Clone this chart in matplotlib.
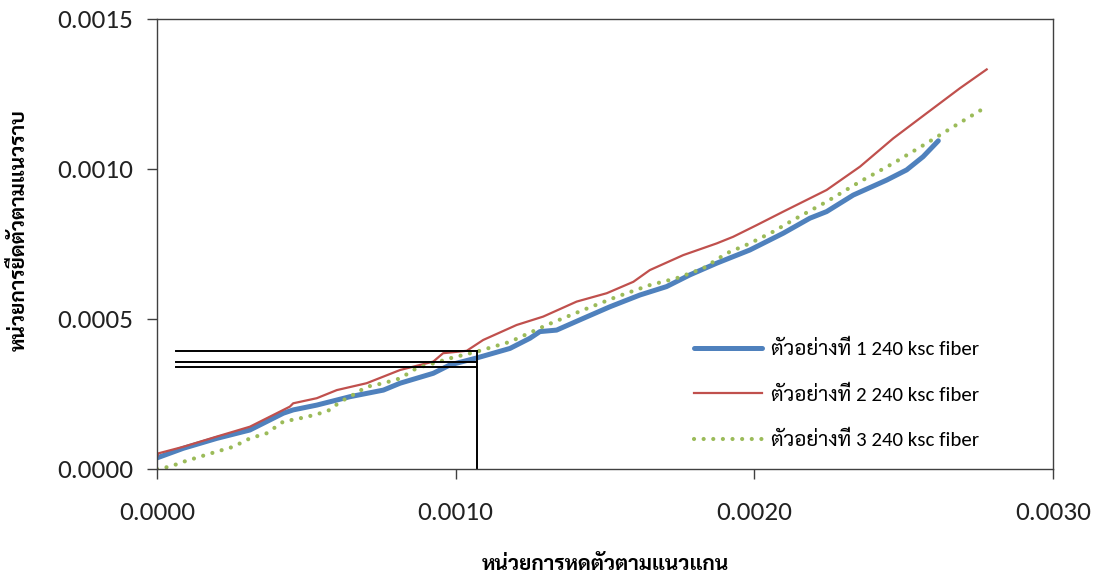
import matplotlib
matplotlib.use("Agg")
import matplotlib.pyplot as plt
from matplotlib.ticker import FormatStrFormatter

# strain readings (axial, lateral)
x1 = [0, 0.000088, 0.000200, 0.000311, 0.000423, 0.000456, 0.000535, 0.000646, 0.000758,
      0.000814, 0.000925, 0.000981, 0.001070, 0.001182, 0.001249, 0.001282, 0.001338,
      0.001427, 0.001517, 0.001617, 0.001706, 0.001784, 0.001874, 0.001985, 0.002097,
      0.002186, 0.002242, 0.002331, 0.002443, 0.002510, 0.002565, 0.002616]
y1 = [0.000037, 0.000069, 0.000102, 0.000130, 0.000186, 0.000197, 0.000213, 0.000241, 0.000263,
      0.000286, 0.000319, 0.000347, 0.000370, 0.000402, 0.000436, 0.000458, 0.000463,
      0.000502, 0.000541, 0.000580, 0.000608, 0.000647, 0.000686, 0.000730, 0.000786,
      0.000836, 0.000858, 0.000913, 0.000963, 0.000997, 0.001041, 0.001094]

x2 = [0, 0.000004, 0.000088, 0.000200, 0.000311, 0.000367, 0.000445, 0.000456, 0.000535,
      0.000602, 0.000702, 0.000758, 0.000814, 0.000925, 0.000958, 0.001037, 0.001092,
      0.001204, 0.001293, 0.001405, 0.001506, 0.001595, 0.001650, 0.001762, 0.001874,
      0.001929, 0.002008, 0.002097, 0.002242, 0.002354, 0.002465, 0.002577, 0.002688, 0.002778]
y2 = [0.000040, 0.000052, 0.000074, 0.000108, 0.000141, 0.000169, 0.000208, 0.000219, 0.000236,
      0.000263, 0.000286, 0.000308, 0.000330, 0.000358, 0.000386, 0.000394, 0.000430,
      0.000480, 0.000508, 0.000558, 0.000586, 0.000624, 0.000663, 0.000713, 0.000752,
      0.000774, 0.000813, 0.000858, 0.000930, 0.001008, 0.001102, 0.001186, 0.001269, 0.001332]

x3 = [0, 0.000044, 0.000088, 0.000144, 0.000200, 0.000255, 0.000311, 0.000367, 0.000423,
      0.000479, 0.000535, 0.000579, 0.000613, 0.000646, 0.000702, 0.000758, 0.000814,
      0.000869, 0.000925, 0.000981, 0.001070, 0.001182, 0.001305, 0.001427, 0.001539,
      0.001650, 0.001740, 0.001829, 0.001907, 0.001985, 0.002063, 0.002130, 0.002242,
      0.002354, 0.002465, 0.002577, 0.002688, 0.002778]
y3 = [0, 0.000008, 0.000024, 0.000041, 0.000058, 0.000074, 0.000102, 0.000119, 0.000158,
      0.000169, 0.000182, 0.000197, 0.000224, 0.000241, 0.000274, 0.000286, 0.000302,
      0.000336, 0.000352, 0.000369, 0.000391, 0.000424, 0.000480, 0.000530, 0.000574,
      0.000613, 0.000636, 0.000669, 0.000719, 0.000752, 0.000791, 0.000830, 0.000891,
      0.000958, 0.001019, 0.001086, 0.001154, 0.001208]

labels = ["ตัวอย่างที่ 1 240 ksc fiber", "ตัวอย่างที่ 2 240 ksc fiber", "ตัวอย่างที่ 3 240 ksc fiber"]

# helper lines drawn on the chart
hline_y = [0.000392, 0.000358, 0.000340]
hline_x0 = 0.0000635
hline_x1 = 0.00107
vline_x = 0.00107
vline_y1 = 0.000392

xticks = [0, 0.001, 0.002, 0.003]
yticks = [0, 0.0005, 0.001, 0.0015]

thai = ["Sarabun", "Noto Sans Thai", "DejaVu Sans"]
latin = ["Carlito", "Sarabun", "Noto Sans Thai", "DejaVu Sans"]

fig = plt.figure(figsize=(10.99, 5.77), dpi=100)
ax = fig.add_axes([157/1099, 108/577, 896/1099, 450/577])

ax.plot(x1, y1, color="#4F81BD", lw=3.6, solid_capstyle="round", label=labels[0])
ax.plot(x2, y2, color="#C0504D", lw=1.6, label=labels[1])
ax.plot(x3, y3, color="#9BBB59", lw=3.0, linestyle=(0, (0.01, 2.3)),
        dash_capstyle="round", label=labels[2])

for yy in hline_y:
    ax.plot([hline_x0, hline_x1], [yy, yy], color="black", lw=1.4)
ax.plot([vline_x, vline_x], [0, vline_y1], color="black", lw=1.4)

ax.set_xlim(0, 0.003)
ax.set_ylim(0, 0.0015)
ax.set_xticks(xticks)
ax.set_yticks(yticks)
ax.xaxis.set_major_formatter(FormatStrFormatter("%.4f"))
ax.yaxis.set_major_formatter(FormatStrFormatter("%.4f"))
ax.tick_params(direction="out", length=7, width=1, color="#404040")
ax.tick_params(axis="y", pad=10)
ax.tick_params(axis="x", pad=16)
for t in ax.get_xticklabels() + ax.get_yticklabels():
    t.set_family(latin)
    t.set_fontsize(19.5)
    t.set_color("#222222")
for s in ax.spines.values():
    s.set_color("#404040")
    s.set_linewidth(1)

ax.set_xlabel("หน่วยการหดตัวตามแนวแกน", family=thai, fontweight="bold", fontsize=15)
ax.xaxis.set_label_coords(0.5, -0.19)
ax.set_ylabel("หน่วยการยืดตัวตามแนวราบ", family=thai, fontweight="bold", fontsize=15)
ax.yaxis.set_label_coords(-0.142, 0.53)

leg = ax.legend(loc="upper left", bbox_to_anchor=(0.578, 0.33), frameon=False,
                prop={"family": latin, "size": 15}, handlelength=3.3,
                labelspacing=1.25, handletextpad=0.4)

fig.savefig("out.png", dpi=100)
